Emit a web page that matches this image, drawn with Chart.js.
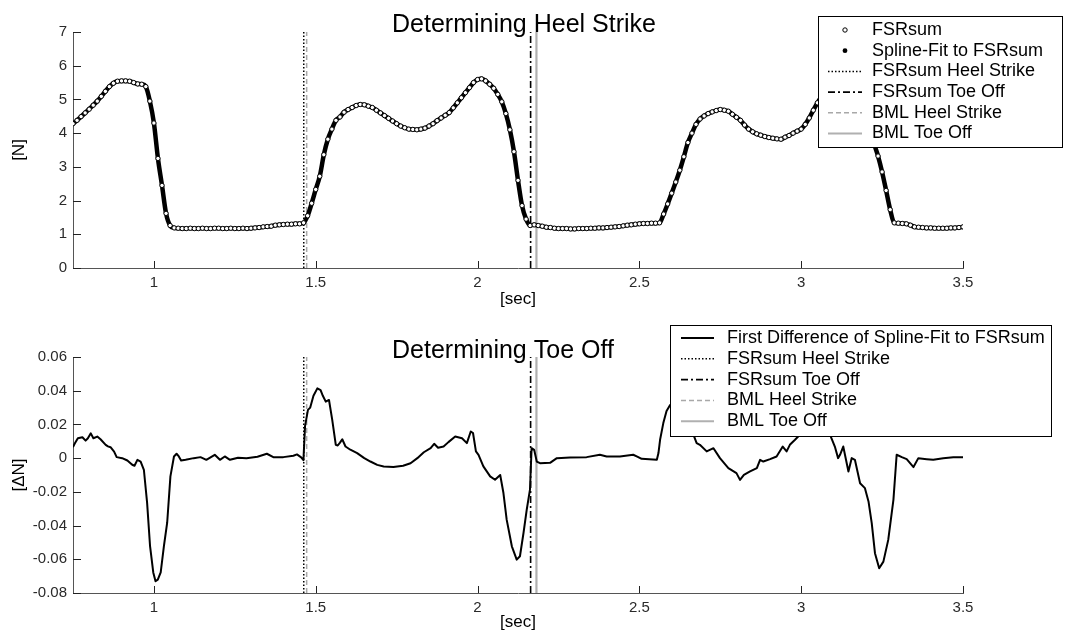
<!DOCTYPE html>
<html>
<head>
<meta charset="utf-8">
<script src="https://cdn.jsdelivr.net/npm/chart.js@4.4.1/dist/chart.umd.min.js"></script>
<style>
  body { margin: 0; background: #fff; }
  canvas { position: absolute; left: 0; }
</style>
</head>
<body>
<canvas id="heel" width="1066" height="320" style="top:0"></canvas>
<canvas id="toe" width="1066" height="319" style="top:320px"></canvas>
<script>
// FSRsum, sampled every 0.0125 s starting at 0.75 s  [N]
const fsrStart = 0.75;
const fsrStep = 0.0125;
const fsrSum = [
  4.28,4.38,4.49,4.60,4.71,4.83,4.95,5.09,5.24,5.38,
  5.48,5.54,5.55,5.55,5.54,5.50,5.46,5.45,5.38,4.95,
  4.30,3.25,2.45,1.62,1.26,1.19,1.18,1.17,1.17,1.18,
  1.17,1.17,1.18,1.17,1.17,1.18,1.18,1.17,1.17,1.18,
  1.17,1.17,1.18,1.17,1.18,1.19,1.20,1.22,1.23,1.24,
  1.27,1.28,1.29,1.30,1.30,1.31,1.31,1.34,1.55,1.92,
  2.33,2.72,3.36,3.82,4.12,4.38,4.48,4.62,4.70,4.76,
  4.82,4.85,4.84,4.80,4.76,4.68,4.60,4.52,4.44,4.36,
  4.28,4.21,4.16,4.12,4.11,4.10,4.12,4.15,4.21,4.28,
  4.37,4.45,4.53,4.61,4.75,4.90,5.05,5.20,5.35,5.50,
  5.59,5.61,5.55,5.45,5.33,5.15,4.93,4.58,4.10,3.45,
  2.60,1.85,1.45,1.26,1.28,1.26,1.24,1.21,1.20,1.18,
  1.17,1.17,1.17,1.16,1.16,1.17,1.17,1.17,1.18,1.18,
  1.19,1.19,1.20,1.21,1.22,1.23,1.25,1.27,1.28,1.30,
  1.31,1.32,1.32,1.33,1.33,1.34,1.60,1.90,2.22,2.55,
  2.90,3.30,3.72,4.00,4.26,4.42,4.51,4.58,4.63,4.67,
  4.70,4.68,4.65,4.56,4.47,4.38,4.24,4.12,4.04,3.98,
  3.94,3.90,3.87,3.85,3.83,3.82,3.88,3.93,4.00,4.06,
  4.12,4.26,4.45,4.68,4.90,5.08,5.22,5.31,5.35,5.36,
  5.30,5.20,5.08,4.96,4.85,4.73,4.55,4.20,3.70,3.32,
  2.85,2.30,1.73,1.34,1.33,1.32,1.31,1.27,1.22,1.21,
  1.20,1.19,1.19,1.18,1.18,1.18,1.18,1.19,1.19,1.20,
  1.22
];

// first difference of the spline fit: time [sec] and value [dN]
const diffTime = [
  0.750,0.755,0.765,0.779,0.789,0.796,0.805,0.813,0.825,0.835,
  0.851,0.858,0.866,0.877,0.885,0.902,0.918,0.933,0.940,0.949,
  0.959,0.969,0.979,0.988,0.998,1.005,1.012,1.021,1.031,1.041,
  1.051,1.062,1.070,1.077,1.084,1.098,1.123,1.144,1.162,1.188,
  1.204,1.219,1.235,1.260,1.286,1.320,1.349,1.369,1.400,1.431,
  1.442,1.455,1.462,1.467,1.476,1.483,1.493,1.505,1.515,1.522,
  1.531,1.541,1.551,1.562,1.568,1.575,1.582,1.592,1.607,1.628,
  1.650,1.669,1.690,1.710,1.740,1.770,1.793,1.814,1.834,1.855,
  1.866,1.878,1.895,1.910,1.931,1.952,1.967,1.979,1.986,1.995,
  2.003,2.018,2.039,2.054,2.070,2.080,2.090,2.106,2.121,2.131,
  2.142,2.152,2.162,2.167,2.175,2.183,2.193,2.224,2.245,2.286,
  2.337,2.378,2.399,2.440,2.481,2.495,2.507,2.554,2.559,2.564,
  2.574,2.584,2.595,2.610,2.625,2.640,2.655,2.667,2.677,2.687,
  2.708,2.729,2.749,2.775,2.800,2.811,2.823,2.842,2.863,2.873,
  2.883,2.904,2.924,2.943,2.955,2.965,2.981,2.996,3.012,3.030,
  3.045,3.060,3.075,3.089,3.104,3.114,3.120,3.130,3.146,3.156,
  3.166,3.182,3.197,3.208,3.218,3.228,3.241,3.254,3.269,3.285,
  3.295,3.311,3.326,3.347,3.362,3.388,3.408,3.439,3.470,3.500
];
const diffValue = [
  0.0065,0.0085,0.0118,0.0124,0.0104,0.0118,0.0147,0.0118,0.0128,0.0112,
  0.0079,0.0070,0.0065,0.0039,0.0006,0.0000,-0.0014,-0.0039,-0.0045,-0.0010,
  -0.0020,-0.0069,-0.0265,-0.0520,-0.0678,-0.0730,-0.0721,-0.0678,-0.0520,-0.0383,
  -0.0108,0.0010,0.0026,0.0010,-0.0014,-0.0010,0.0000,0.0006,-0.0010,0.0020,
  -0.0010,0.0010,-0.0010,0.0002,0.0000,0.0008,0.0026,0.0006,0.0006,0.0014,
  0.0022,0.0005,-0.0012,0.0190,0.0286,0.0300,0.0370,0.0414,0.0404,0.0370,
  0.0335,0.0345,0.0227,0.0079,0.0075,0.0092,0.0112,0.0069,0.0050,0.0030,
  0.0000,-0.0020,-0.0040,-0.0049,-0.0052,-0.0045,-0.0030,0.0000,0.0035,0.0059,
  0.0085,0.0062,0.0069,0.0095,0.0128,0.0118,0.0089,0.0158,0.0149,0.0040,
  0.0020,-0.0049,-0.0108,-0.0128,-0.0100,-0.0207,-0.0365,-0.0523,-0.0602,-0.0582,
  -0.0444,-0.0306,-0.0187,0.0059,0.0049,-0.0020,-0.0030,-0.0028,0.0000,0.0004,
  0.0006,0.0020,0.0010,0.0010,0.0020,0.0008,-0.0004,-0.0010,0.0030,0.0109,
  0.0208,0.0280,0.0315,0.0335,0.0320,0.0270,0.0200,0.0139,0.0089,0.0079,
  0.0040,0.0059,0.0000,-0.0059,-0.0089,-0.0129,-0.0099,-0.0079,-0.0059,-0.0010,
  -0.0020,-0.0006,0.0010,0.0069,0.0040,0.0079,0.0109,0.0139,0.0149,0.0180,
  0.0210,0.0195,0.0165,0.0139,0.0069,0.0000,0.0020,0.0069,-0.0079,0.0000,
  -0.0010,-0.0149,-0.0178,-0.0257,-0.0386,-0.0564,-0.0653,-0.0614,-0.0485,-0.0248,
  0.0020,0.0006,-0.0006,-0.0053,0.0000,-0.0006,-0.0010,0.0000,0.0006,0.0006
];

// detected events [sec]
const fsrHeelStrike = 1.463;
const fsrToeOff = 2.164;
const bmlHeelStrike = 1.472;
const bmlToeOff = 2.182;

// axes
const xRange = [0.75, 3.5];
const xTicks = [1, 1.5, 2, 2.5, 3, 3.5];
const yRangeHeel = [0, 7];
const yTicksHeel = [0, 1, 2, 3, 4, 5, 6, 7];
const yRangeToe = [-0.08, 0.06];
const yTicksToe = [-0.08, -0.06, -0.04, -0.02, 0, 0.02, 0.04, 0.06];

const FONT = '"Liberation Sans", Arial, Helvetica, sans-serif';

const fsrPoints = fsrSum.map((v, i) => ({ x: fsrStart + i * fsrStep, y: v }));
const diffPoints = diffTime.map((t, i) => ({ x: t, y: diffValue[i] }));

function eventLine(label, t, range, color, dash, width) {
  return {
    label: label,
    data: [{ x: t, y: range[0] }, { x: t, y: range[1] }],
    borderColor: color,
    borderDash: dash,
    borderWidth: width,
    pointRadius: 0
  };
}

function eventLines(range) {
  return [
    eventLine('FSRsum Heel Strike', fsrHeelStrike, range, '#000', [1.5, 2], 1.5),
    eventLine('FSRsum Toe Off', fsrToeOff, range, '#000', [7, 3, 2, 3], 1.6),
    eventLine('BML Heel Strike', bmlHeelStrike, range, '#a8a8a8', [5, 3], 1.5),
    eventLine('BML Toe Off', bmlToeOff, range, '#b0b0b0', [], 2.2)
  ];
}

// title, inward tick marks and the boxed legend
const decor = {
  id: 'decor',
  afterDraw(chart, args, o) {
    const ctx = chart.ctx;
    const sx = chart.scales.x, sy = chart.scales.y;
    ctx.save();

    ctx.strokeStyle = '#222';
    ctx.lineWidth = 1;
    ctx.setLineDash([]);
    ctx.beginPath();
    sx.ticks.forEach(t => {
      const p = Math.round(sx.getPixelForValue(t.value)) + 0.5;
      ctx.moveTo(p, sy.bottom);
      ctx.lineTo(p, sy.bottom - 7);
    });
    sy.ticks.forEach(t => {
      const p = Math.round(sy.getPixelForValue(t.value)) + 0.5;
      ctx.moveTo(sx.left, p);
      ctx.lineTo(sx.left + 8, p);
    });
    ctx.stroke();

    ctx.fillStyle = '#000';
    ctx.font = '25px ' + FONT;
    ctx.textAlign = 'left';
    ctx.textBaseline = 'alphabetic';
    ctx.fillText(o.title, o.titleX, chart.chartArea.top + o.titleDy);

    const L = o.legend;
    ctx.fillStyle = '#fff';
    ctx.fillRect(L.x, L.y, L.w, L.h);
    ctx.strokeStyle = '#000';
    ctx.lineWidth = 1;
    ctx.strokeRect(L.x + 0.5, L.y + 0.5, L.w, L.h);
    ctx.font = '18px ' + FONT;
    ctx.textBaseline = 'middle';
    chart.data.datasets.forEach((ds, i) => {
      const cy = L.y + L.first + i * L.step;
      const cx = L.sx + L.sw / 2;
      if (ds.legendMarker === 'open') {
        ctx.setLineDash([]);
        ctx.beginPath();
        ctx.arc(cx, cy, 2.2, 0, Math.PI * 2);
        ctx.fillStyle = '#fff';
        ctx.fill();
        ctx.strokeStyle = '#000';
        ctx.lineWidth = 1;
        ctx.stroke();
      } else if (ds.legendMarker === 'dot') {
        ctx.setLineDash([]);
        ctx.beginPath();
        ctx.arc(cx, cy, 2.4, 0, Math.PI * 2);
        ctx.fillStyle = '#000';
        ctx.fill();
      } else {
        ctx.setLineDash(ds.borderDash || []);
        ctx.strokeStyle = ds.borderColor;
        ctx.lineWidth = Math.min(ds.borderWidth, 2);
        ctx.beginPath();
        ctx.moveTo(L.sx, cy);
        ctx.lineTo(L.sx + L.sw, cy);
        ctx.stroke();
      }
      ctx.setLineDash([]);
      ctx.fillStyle = '#000';
      ctx.fillText(ds.label, L.tx, cy);
    });
    ctx.restore();
  }
};

function options(yRange, yTicks, yTitle, padTop, xHeight, xTitlePad, decorOpts) {
  return {
    responsive: false,
    animation: false,
    layout: { padding: { top: padTop, right: 103, left: 0, bottom: 0 } },
    scales: {
      x: {
        type: 'linear',
        min: xRange[0],
        max: xRange[1],
        afterBuildTicks: s => { s.ticks = xTicks.map(v => ({ value: v })); },
        afterFit: s => { s.height = xHeight; },
        grid: { display: true, drawOnChartArea: false, drawTicks: false },
        border: { color: '#555', width: 1 },
        ticks: {
          callback: v => String(v),
          color: '#2a2a2a', padding: 6, maxRotation: 0, autoSkip: false,
          font: { family: FONT, size: 15 }
        },
        title: {
          display: true, text: '[sec]', color: '#000',
          padding: { top: 0, bottom: xTitlePad },
          font: { family: FONT, size: 17 }
        }
      },
      y: {
        min: yRange[0],
        max: yRange[1],
        afterBuildTicks: s => { s.ticks = yTicks.map(v => ({ value: v })); },
        afterFit: s => { s.width = 73; },
        grid: { display: true, drawOnChartArea: false, drawTicks: false },
        border: { color: '#555', width: 1 },
        ticks: {
          callback: v => String(v),
          color: '#2a2a2a', padding: 6,
          font: { family: FONT, size: 15 }
        },
        title: {
          display: true, text: yTitle, color: '#000',
          padding: { top: 9, bottom: 0 },
          font: { family: FONT, size: 17 }
        }
      }
    },
    plugins: {
      legend: { display: false },
      tooltip: { enabled: false },
      decor: decorOpts
    }
  };
}

new Chart(document.getElementById('heel'), {
  type: 'line',
  data: {
    datasets: [
      {
        label: 'FSRsum',
        data: fsrPoints,
        showLine: false,
        pointRadius: 2.2,
        pointBorderWidth: 1,
        pointBackgroundColor: '#fff',
        pointBorderColor: '#000',
        legendMarker: 'open'
      },
      {
        label: 'Spline-Fit to FSRsum',
        data: fsrPoints,
        borderColor: '#000',
        borderWidth: 4.5,
        borderJoinStyle: 'round',
        cubicInterpolationMode: 'monotone',
        pointRadius: 0,
        legendMarker: 'dot'
      },
      ...eventLines(yRangeHeel)
    ]
  },
  options: options(yRangeHeel, yTicksHeel, '[N]', 32, 52, 10, {
    title: 'Determining Heel Strike', titleX: 392, titleDy: 0,
    legend: { x: 818, y: 16, w: 244, h: 131, first: 14, step: 20.7, sx: 828, sw: 34, tx: 872 }
  }),
  plugins: [decor]
});

new Chart(document.getElementById('toe'), {
  type: 'line',
  data: {
    datasets: [
      {
        label: 'First Difference of Spline-Fit to FSRsum',
        data: diffPoints,
        borderColor: '#000',
        borderWidth: 2,
        borderJoinStyle: 'round',
        pointRadius: 0
      },
      ...eventLines(yRangeToe)
    ]
  },
  options: options(yRangeToe, yTicksToe, '[\u0394N]', 37, 46, 6, {
    title: 'Determining Toe Off', titleX: 392, titleDy: 1,
    legend: { x: 670, y: 5, w: 381, h: 111, first: 13, step: 20.8, sx: 681, sw: 33, tx: 727 }
  }),
  plugins: [decor]
});
</script>
</body>
</html>
